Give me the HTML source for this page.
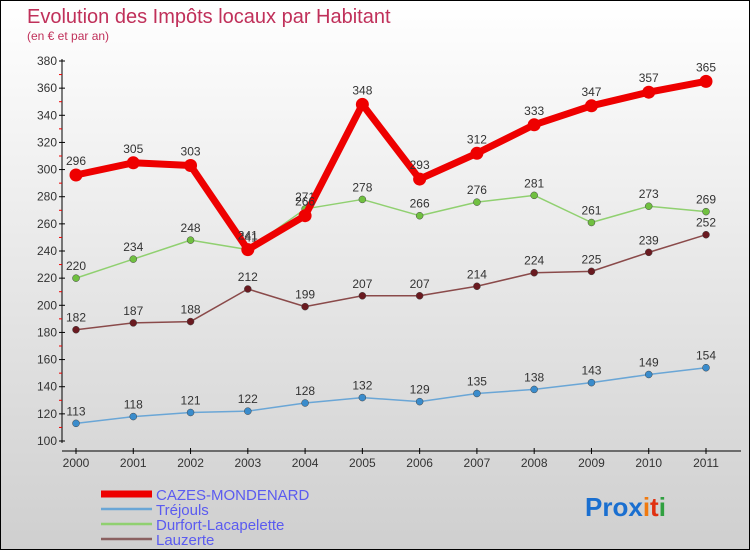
<!DOCTYPE html>
<html><head><meta charset="utf-8">
<style>
body{margin:0;width:750px;height:550px;overflow:hidden;}
#wrap{position:relative;width:748px;height:548px;border:1px solid #000;background:linear-gradient(#ffffff,#cfcfcf);}
svg{position:absolute;left:0;top:0;font-family:"Liberation Sans",sans-serif;}
</style></head><body>
<div id="wrap">
<svg id="c" width="750" height="550">
<text x="26" y="22" font-size="20" fill="#c0305a">Evolution des Impôts locaux par Habitant</text>
<text x="26" y="39" font-size="12" fill="#c0305a">(en € et par an)</text>
<text x="584" y="515" font-size="26" font-weight="bold"><tspan fill="#1a6fd0">Pro</tspan><tspan fill="#1a6fd0">x</tspan><tspan fill="#f07a10">i</tspan><tspan fill="#e03010">t</tspan><tspan fill="#30a040">i</tspan></text>
</svg>
</div>
<script>
const years=["2000","2001","2002","2003","2004","2005","2006","2007","2008","2009","2010","2011"];
const yTicks=[100,120,140,160,180,200,220,240,260,280,300,320,340,360,380];
const cazes=[296,305,303,241,266,348,293,312,333,347,357,365];
const trejouls=[113,118,121,122,128,132,129,135,138,143,149,154];
const durfort=[220,234,248,241,271,278,266,276,281,261,273,269];
const lauzerte=[182,187,188,212,199,207,207,214,224,225,239,252];
const NS="http://www.w3.org/2000/svg";
const svg=document.getElementById('c');
const X=i=>75+i*(630/11);
const Y=v=>440-(v-100)*(380/280);
function mk(t,a,p){const e=document.createElementNS(NS,t);for(const k in a)e.setAttribute(k,a[k]);(p||svg).appendChild(e);return e;}
// axes
let e=mk('line',{x1:61,y1:58,x2:61,y2:442,stroke:'#000','stroke-width':1});


e=mk('line',{x1:61,y1:450,x2:740,y2:450,stroke:'#000','stroke-width':1});


yTicks.forEach(v=>{
 mk('line',{x1:58,x2:64,y1:Y(v),y2:Y(v),stroke:'#000'});
 if(v<380) mk('line',{x1:58,x2:61,y1:Y(v+10),y2:Y(v+10),stroke:'#e00'});
 const t=mk('text',{x:56,y:Y(v)+4,'font-size':12,'text-anchor':'end',fill:'#333'});
 t.textContent=v;
 
 
});
years.forEach((y,i)=>{
 mk('line',{x1:X(i),x2:X(i),y1:447,y2:453,stroke:'#000'});
 const t=mk('text',{x:X(i),y:466,'font-size':12,'text-anchor':'middle',fill:'#333'});
 t.textContent=y;
 
 
});
function series(d,col,dot,w,r,name){
 const g=mk('g',{});
 
 
 mk('polyline',{points:d.map((v,i)=>X(i)+','+Y(v)).join(' '),fill:'none',stroke:col,'stroke-width':w,'stroke-linejoin':'round'},g);
 d.forEach((v,i)=>{
  const c=mk('circle',{cx:X(i),cy:Y(v),r:r,fill:dot,stroke:w>3?'none':'#444','stroke-width':0.5},g);
  
  
  const t=mk('text',{x:X(i),y:Y(v)-(w>3?10:8),'font-size':12,'text-anchor':'middle',fill:'#333'},g);
  t.textContent=v;
  
  
 });
}
series(trejouls,'#6aa6d6','#3a8ccc',1.5,3.5,'trejouls');
series(lauzerte,'#8a4a4a','#6a1a20',1.5,3.5,'lauzerte');
series(durfort,'#90d070','#70c040',1.5,3.5,'durfort');
series(cazes,'#ee0000','#ee0000',7,6.5,'cazes');
const leg=[['CAZES-MONDENARD','#ee0000',7],['Tréjouls','#6aa6d6',2.5],['Durfort-Lacapelette','#90d070',2.5],['Lauzerte','#8a6060',2.5]];
leg.forEach((l,i)=>{
 const y=493+i*15;
 const g=mk('g',{});
 
 
 mk('line',{x1:100,x2:151,y1:y,y2:y,stroke:l[1],'stroke-width':l[2]},g);
 const t=mk('text',{x:155,y:y+6,'font-size':15,fill:'#5b5bf0'},g);
 t.textContent=l[0];
});
</script>
</body></html>
